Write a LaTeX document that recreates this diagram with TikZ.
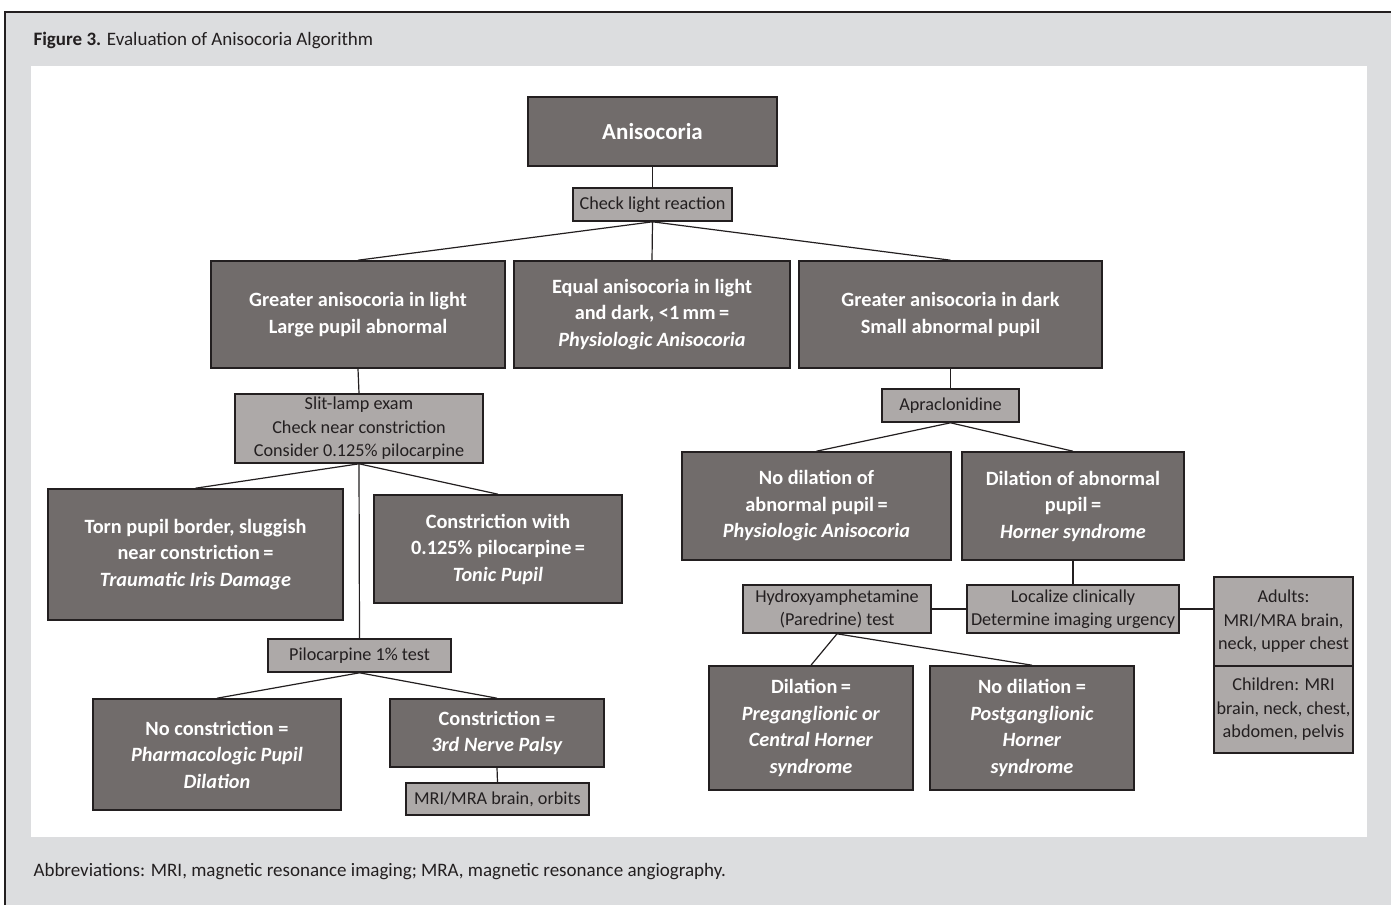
\documentclass[tikz,border=0pt]{standalone}
\usepackage{fontspec}
\setmainfont{Carlito}
\definecolor{boxdark}{HTML}{716C6B}
\definecolor{boxlight}{HTML}{ADA9A8}
\definecolor{edge}{HTML}{231F20}
\definecolor{panel}{HTML}{DCDDDF}
\begin{document}
\begin{tikzpicture}[x=1pt,y=-1pt,
	darkbox/.style={draw=edge,fill=boxdark,text=white,line width=1.6pt,inner sep=0pt,align=center,
		font=\bfseries\fontsize{20.3}{26.5}\selectfont},
	lightbox/.style={draw=edge,fill=boxlight,text=edge,line width=1.6pt,inner sep=0pt,align=center,
		font=\fontsize{18.2}{23.5}\selectfont},
	link/.style={draw=edge,line width=1.2pt}]
		% frame and panel
		\useasboundingbox (0,0) rectangle (1391,905);
		\fill[panel] (5,12) rectangle (1391,905);
		\draw[edge,line width=2.5pt] (5,905) -- (5,12) -- (1391,12);
		\fill[white] (31,66) rectangle (1367,837);
		\node[anchor=west,text=edge,font=\fontsize{19}{22}\selectfont] (title) at (30,40) {\textbf{Figure 3.} Evaluation of Anisocoria Algorithm};
		\node[anchor=west,text=edge,font=\fontsize{19}{22}\selectfont] (abbr) at (30,872) {Abbreviations: MRI, magnetic resonance imaging; MRA, magnetic resonance angiography.};
		
		% top
		\node[darkbox,minimum width=249,minimum height=69,font=\bfseries\fontsize{23}{26}\selectfont] (an) at (652.5,131.5) {Anisocoria};
		\node[lightbox,minimum width=159,minimum height=33] (cl) at (652.5,204.5) {Check light reaction};
		\node[darkbox,minimum width=294,minimum height=107] (gl) at (358,314.5) {Greater anisocoria in light\\Large pupil abnormal};
		\node[darkbox,minimum width=276,minimum height=107] (eq) at (652,314.5) {Equal anisocoria in light\\and dark, <1\,mm\,=\\\textit{Physiologic Anisocoria}};
		\node[darkbox,minimum width=303,minimum height=107] (gd) at (950.5,314.5) {Greater anisocoria in dark\\Small abnormal pupil};
		
		% left branch
		\node[lightbox,minimum width=248,minimum height=69] (sl) at (359,428.5) {Slit-lamp exam\\Check near constriction\\Consider 0.125\% pilocarpine};
		\node[darkbox,minimum width=295,minimum height=131] (tp) at (195.5,554.5) {Torn pupil border, sluggish\\near constriction\,=\\\textit{Traumatic Iris Damage}};
		\node[darkbox,minimum width=248,minimum height=108] (tn) at (498,549) {Constriction with\\0.125\% pilocarpine\,=\\\textit{Tonic Pupil}};
		\node[lightbox,minimum width=183,minimum height=33] (p1) at (359.5,655.5) {Pilocarpine 1\% test};
		\node[darkbox,minimum width=248,minimum height=111] (nc) at (217,754.5) {No constriction =\\\textit{Pharmacologic Pupil}\\\textit{Dilation}};
		\node[darkbox,minimum width=214,minimum height=68] (c3) at (497,733) {Constriction =\\\textit{3rd Nerve Palsy}};
		\node[lightbox,minimum width=183,minimum height=32] (mr) at (497.5,799) {MRI/MRA brain, orbits};
		
		% right branch
		\node[lightbox,minimum width=137,minimum height=33] (ap) at (950.5,405.5) {Apraclonidine};
		\node[darkbox,minimum width=269,minimum height=108] (nd) at (816.5,506) {No dilation of\\abnormal pupil\,=\\\textit{Physiologic Anisocoria}};
		\node[darkbox,minimum width=222,minimum height=108] (dh) at (1073,506) {Dilation of abnormal\\pupil\,=\\\textit{Horner syndrome}};
		\node[lightbox,minimum width=212,minimum height=48] (lc) at (1073,609) {Localize clinically\\Determine imaging urgency};
		\node[lightbox,minimum width=188,minimum height=48] (hx) at (837,609) {Hydroxyamphetamine\\(Paredrine) test};
		\node[lightbox,minimum width=139,minimum height=89] (ad) at (1283.5,621.5) {Adults:\\MRI/MRA brain,\\neck, upper chest};
		\node[lightbox,minimum width=139,minimum height=87] (ch) at (1283.5,709.5) {Children: MRI\\brain, neck, chest,\\abdomen, pelvis};
		\node[darkbox,minimum width=204,minimum height=124] (pg) at (811,728) {Dilation\,=\\\textit{Preganglionic or}\\\textit{Central Horner}\\\textit{syndrome}};
		\node[darkbox,minimum width=204,minimum height=124] (po) at (1032,728) {No dilation =\\\textit{Postganglionic}\\\textit{Horner}\\\textit{syndrome}};
		
		\draw[link] (an.south) -- (cl.north);
		\draw[link] (cl.south) -- (gl.north);
		\draw[link] (cl.south) -- (eq.north);
		\draw[link] (cl.south) -- (gd.north);
		\draw[link] (gl.south) -- (sl.north);
		\draw[link] (sl.south) -- (tp.north);
		\draw[link] (sl.south) -- (tn.north);
		\draw[link] (sl.south) -- (p1.north);
		\draw[link] (p1.south) -- (nc.north);
		\draw[link] (p1.south) -- (c3.north);
		\draw[link] (c3.south) -- (mr.north);
		\draw[link] (gd.south) -- (ap.north);
		\draw[link] (ap.south) -- (nd.north);
		\draw[link] (ap.south) -- (dh.north);
		\draw[link] (dh.south) -- (lc.north);
		\draw[link] (lc.west) -- (hx.east);
		\draw[link] (lc.east) -- (lc.east -| ad.west);
		\draw[link] (hx.south) -- (pg.north);
		\draw[link] (hx.south) -- (po.north);
\end{tikzpicture}
\end{document}
